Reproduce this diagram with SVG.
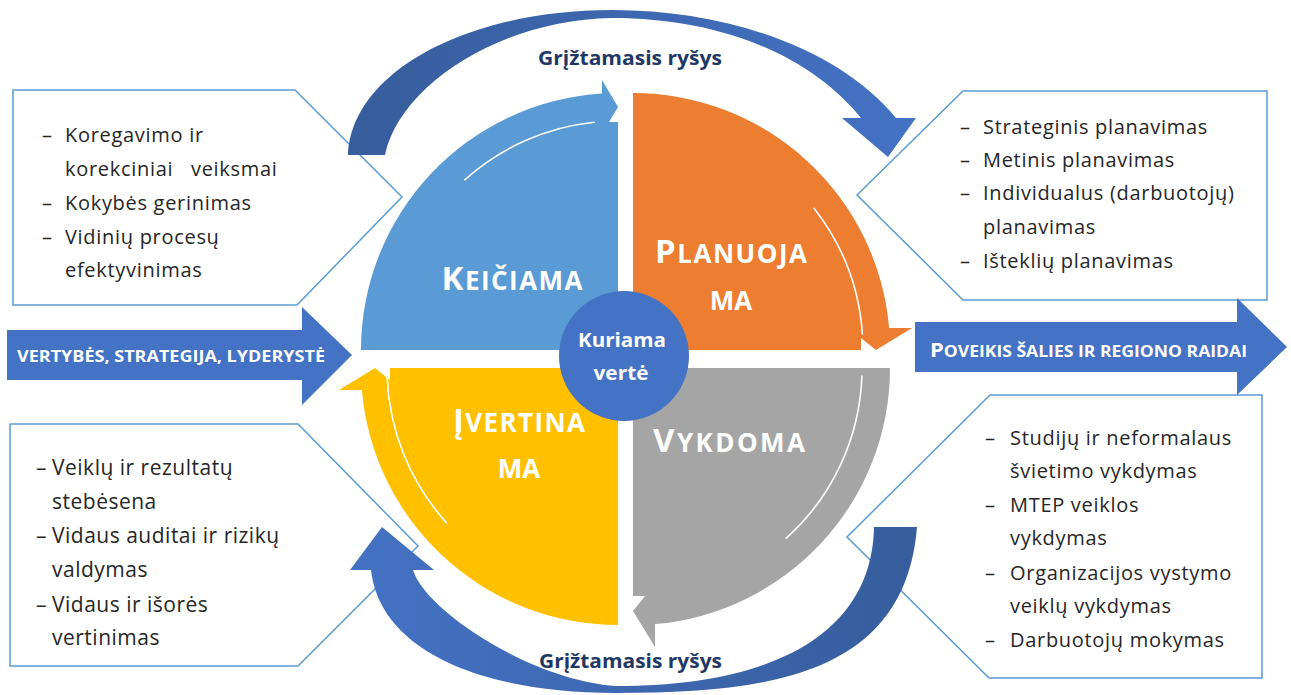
<svg xmlns="http://www.w3.org/2000/svg" width="1291" height="695" viewBox="0 0 1291 695">
<defs>
<linearGradient id="gTop" x1="348" y1="0" x2="916" y2="0" gradientUnits="userSpaceOnUse"><stop offset="0" stop-color="#365D9C"/><stop offset="0.45" stop-color="#3D66AE"/><stop offset="1" stop-color="#4472C4"/></linearGradient>
<linearGradient id="gBot" x1="350" y1="0" x2="917" y2="0" gradientUnits="userSpaceOnUse"><stop offset="0" stop-color="#4472C4"/><stop offset="0.55" stop-color="#3D66AE"/><stop offset="1" stop-color="#365D9C"/></linearGradient>
</defs>
<style>
.box{fill:#fff;stroke:#5B9BD5;stroke-width:1.5}
.bt{font-family:"Open Sans","Liberation Sans",sans-serif;font-size:20px;fill:#262626;letter-spacing:0.7px}
.bt3{font-family:"Open Sans","Liberation Sans",sans-serif;font-size:21px;fill:#262626;letter-spacing:0.5px}
.q{font-family:"Open Sans","Liberation Sans",sans-serif;font-weight:700;fill:#fff}
.sep{fill:none;stroke:#fff;stroke-width:1.6;stroke-linecap:round}
.fb{font-family:"Open Sans","Liberation Sans",sans-serif;font-weight:700;font-size:19px;fill:#1F3864}
.big{fill:#4472C4}
</style>

<g id="box-keiciama">
<path class="box" d="M13,90 L295,90 L402,197 L297,305 L13,305 Z"/>
<text class="bt" x="42" y="142">–</text><text class="bt" x="65" y="142">Koregavimo ir</text>
<text class="bt" x="65" y="176" xml:space="preserve" style="white-space:pre">korekciniai   veiksmai</text>
<text class="bt" x="42" y="210">–</text><text class="bt" x="65" y="210">Kokybės gerinimas</text>
<text class="bt" x="42" y="244">–</text><text class="bt" x="65" y="244">Vidinių procesų</text>
<text class="bt" x="65" y="277">efektyvinimas</text>
</g>

<g id="box-planuojama">
<path class="box" d="M857,195 L963,91 L1267,91 L1267,300 L963,300 Z"/>
<text class="bt" x="960" y="134">–</text><text class="bt" x="983" y="134">Strateginis planavimas</text>
<text class="bt" x="960" y="167">–</text><text class="bt" x="983" y="167">Metinis planavimas</text>
<text class="bt" x="960" y="200">–</text><text class="bt" x="983" y="200">Individualus (darbuotojų)</text>
<text class="bt" x="983" y="234">planavimas</text>
<text class="bt" x="960" y="268">–</text><text class="bt" x="983" y="268">Išteklių planavimas</text>
</g>

<g id="box-ivertinama">
<path class="box" d="M10,424 L298,424 L418,546 L298,666 L10,666 Z"/>
<text class="bt3" x="36" y="475">–</text><text class="bt3" x="52" y="475">Veiklų ir rezultatų</text>
<text class="bt3" x="52" y="509">stebėsena</text>
<text class="bt3" x="36" y="543">–</text><text class="bt3" x="52" y="543">Vidaus auditai ir rizikų</text>
<text class="bt3" x="52" y="577">valdymas</text>
<text class="bt3" x="36" y="612">–</text><text class="bt3" x="52" y="612">Vidaus ir išorės</text>
<text class="bt3" x="52" y="645">vertinimas</text>
</g>

<g id="box-vykdoma">
<path class="box" d="M847,537 L990,395 L1262,395 L1262,678 L989,678 Z"/>
<text class="bt" x="985" y="445">–</text><text class="bt" x="1010" y="445">Studijų ir neformalaus</text>
<text class="bt" x="1010" y="478">švietimo vykdymas</text>
<text class="bt" x="985" y="512">–</text><text class="bt" x="1010" y="512">MTEP veiklos</text>
<text class="bt" x="1010" y="545">vykdymas</text>
<text class="bt" x="985" y="580">–</text><text class="bt" x="1010" y="580">Organizacijos vystymo</text>
<text class="bt" x="1010" y="613">veiklų vykdymas</text>
<text class="bt" x="985" y="647">–</text><text class="bt" x="1010" y="647">Darbuotojų mokymas</text>
</g>

<g id="connectors">
<g id="input-arrow">
<path class="big" d="M7,330 L302,330 L302,307 L352,355 L302,405 L302,380 L7,380 Z"/>
<text class="q" x="17" y="362" font-size="16" textLength="308" lengthAdjust="spacingAndGlyphs">VERTYBĖS, STRATEGIJA, LYDERYSTĖ</text>
</g>
<g id="output-arrow">
<path class="big" d="M915,322 L1237,322 L1237,298 L1287,347 L1237,395 L1237,372 L915,372 Z"/>
<text class="q" x="930" y="357" textLength="317" lengthAdjust="spacingAndGlyphs"><tspan font-size="20">P</tspan><tspan font-size="16">OVEIKIS ŠALIES IR REGIONO RAIDAI</tspan></text>
</g>
<g id="feedback-top">
<path fill="url(#gTop)" d="M348,155 C352,70 470,10 612,10 C730,10 840,50 896,118 L916,118 L888,157 L842,118 L861,118 C810,55 720,18 612,18 C500,20 400,85 385,155 Z"/>
<text class="fb" x="538" y="65" textLength="184" lengthAdjust="spacingAndGlyphs">Grįžtamasis ryšys</text>
</g>
<g id="feedback-bottom">
<path fill="url(#gBot)" d="M371,570 C380,650 480,693 616,693 C770,693 905,675 917,527 L874,527 C872,630 780,686 616,686 C530,680 425,610 413,570 L434,570 L382,527 L350,570 Z"/>
<text class="fb" x="539" y="668" textLength="183" lengthAdjust="spacingAndGlyphs">Grįžtamasis ryšys</text>
</g>
</g>

<g id="q-keiciama">
<path fill="#5B9BD5" d="M618,350 L361,350 A257,257 0 0 1 602,93.5 L602,80 L618,107 L609,122 L618,122 Z"/>
<path class="sep" d="M464.8,179.8 A229,229 0 0 1 594.1,122.3"/>
<text class="q" x="512" y="290" text-anchor="middle" textLength="141" lengthAdjust="spacing"><tspan font-size="33">K</tspan><tspan font-size="26">EIČIAMA</tspan></text>
</g>

<g id="q-planuojama">
<path fill="#ED7D31" d="M633,350 L633,93 A257,257 0 0 1 889.1,328 L912,328 L876,350 L861,338 L861,350 Z"/>
<path class="sep" d="M814.2,208.4 A230,230 0 0 1 862.4,334"/>
<text class="q" x="731" y="263" text-anchor="middle" textLength="152" lengthAdjust="spacing"><tspan font-size="33">P</tspan><tspan font-size="26">LANUOJA</tspan></text>
<text class="q" x="731" y="310" text-anchor="middle" font-size="26">MA</text>
</g>

<g id="q-vykdoma">
<path fill="#A5A5A5" d="M633,368 L890,368 A257,257 0 0 1 655,624.1 L655,647 L633,611 L645,596 L633,596 Z"/>
<path class="sep" d="M861.9,376 A229,229 0 0 1 786.2,538.2"/>
<text class="q" x="729" y="452" text-anchor="middle" textLength="152" lengthAdjust="spacing"><tspan font-size="33">V</tspan><tspan font-size="26">YKDOMA</tspan></text>
</g>

<g id="q-ivertinama">
<path fill="#FFC000" d="M618,368 L618,625 A257,257 0 0 1 361.9,390 L339,390 L375,368 L390,380 L390,368 Z"/>
<path class="sep" d="M446.3,522.6 A231,231 0 0 1 387.1,376.1"/>
<text class="q" x="519" y="432" text-anchor="middle" textLength="132" lengthAdjust="spacing"><tspan font-size="33">Į</tspan><tspan font-size="26">VERTINA</tspan></text>
<text class="q" x="519" y="478" text-anchor="middle" font-size="26">MA</text>
</g>

<g id="center">
<circle cx="624" cy="356" r="65" fill="#4472C4"/>
<text class="q" x="622" y="347" text-anchor="middle" font-size="19" textLength="88" lengthAdjust="spacingAndGlyphs">Kuriama</text>
<text class="q" x="621" y="380" text-anchor="middle" font-size="19" textLength="55" lengthAdjust="spacingAndGlyphs">vertė</text>
</g>
</svg>
